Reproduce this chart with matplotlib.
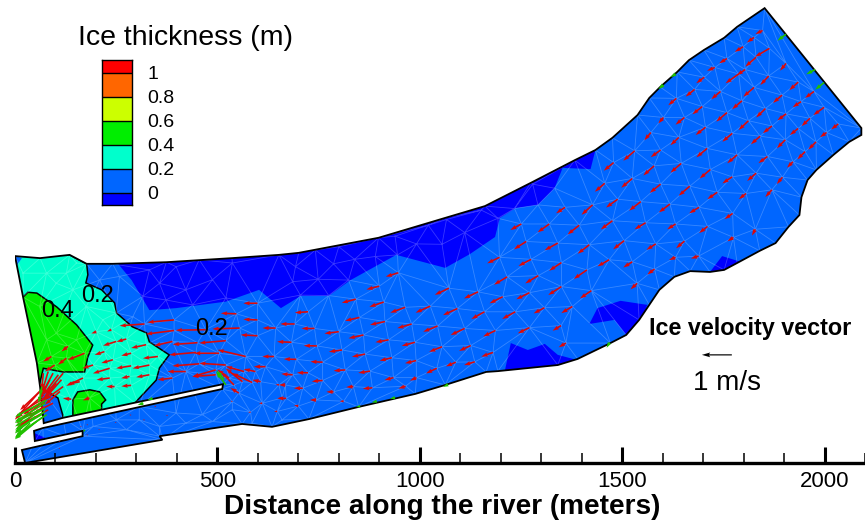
import numpy as np
import matplotlib
matplotlib.use('Agg')
import matplotlib.pyplot as plt
import matplotlib.tri as mtri
from matplotlib.patches import Polygon
from matplotlib.path import Path

plt.rcParams['font.family'] = 'Liberation Sans'

# River outline, metres
river_x = [0,62,135,177,241,374,536,652,701,898,1063,1161,1274,1383,1434,1476,1538,1567,1594,1636,1665,1702,1752,1784,1852,
           2091,2091,2061,2022,1980,1958,1943,1938,1911,1879,1840,1784,1752,1717,1668,1629,1592,1567,1542,1510,1471,1390,1341,
           1193,1164,1063,989,849,726,635,561,357,364,25,17,167,167,49,47,69,512,514,118,71,62,54,20]
river_y = [509,504,512,490,490,494,504,512,517,554,603,632,689,745,770,800,856,898,925,962,991,1016,1046,1073,1119,
           824,807,790,758,721,696,654,610,581,541,522,492,475,470,472,458,426,389,352,315,295,256,241,
           226,224,192,170,138,108,89,96,66,57,0,32,66,79,54,79,86,182,194,111,98,187,246,408]

# Ice thickness zones
cyan_x = [-10,0,135,177,180,175,214,246,251,290,325,332,381,357,349,303,290,118,118,106,86,62,-10]
cyan_y = [509,509,512,490,463,443,426,394,369,335,320,298,266,234,204,155,140,105,118,160,172,187,200]
green_x = [-10,20,32,54,103,152,192,180,172,118,70,61,-10]
green_y = [408,408,420,418,384,340,290,261,224,224,233,196,196]
green2_x = [143,143,155,185,209,224,214,214,143]
green2_y = [130,155,175,180,175,155,145,130,110]
band_x = [253,288,332,398,521,603,657,706,775,829,942,1063,1124,1186,1198,1237,1292,1333,1353,1422,1434,1434,1000,650,253]
band_y = [492,450,376,381,397,426,381,411,411,450,512,480,514,556,603,627,635,676,726,723,770,800,620,540,520]
patch_a_x = [1717,1747,1796,1771]
patch_a_y = [470,509,494,462]
patch_b_x = [1419,1439,1496,1562,1545,1510,1481]
patch_b_y = [342,381,399,389,344,315,352]
patch_c_x = [1210,1225,1267,1309,1341,1390,1390,1210]
patch_c_y = [226,295,278,293,266,253,216,192]
patch_d_x = [47,86,49]
patch_d_y = [74,57,54]
patch_e_x = [0,17,5]
patch_e_y = [509,504,487]

# Ice velocity, downstream reach: position in metres, speed in m/s
down_x = [1847,1826,1799,1759,1729,1864,1831,1788,1804,1703,1905,1862,1679,1634,1743,1826,1935,1974,1895,1796,1698,1942,1854,1759,1654,1602,1905,1964,1999,1812,1706,1870,1935,2034,2005,1772,1841,1903,1979,1640,1571,1710,1595,1531,1479,1952,1784,1859,1922,1646,1579,1718,1525,1457,1772,1831,1896,1595,1667,1735,1806,1870,1489,1427,1546,1618,1690,1773,1476,1558,1632,1394,1359]
down_y = [1064,1047,1024,995,973,1020,998,957,968,949,983,952,919,897,914,924,937,914,905,891,877,889,872,862,850,850,859,848,875,842,826,829,823,834,813,811,804,795,790,801,813,774,770,768,739,766,758,754,741,737,731,722,700,688,704,713,703,686,681,666,663,672,649,635,643,637,629,614,596,591,588,585,629]
down_u = [-.24,-.24,-.28,-.26,-.26,-.48,-.36,-.44,-.28,-.27,-.20,-.28,-.30,-.27,-.31,-.36,-.30,-.30,-.30,-.33,-.33,-.28,-.31,-.36,-.30,-.17,-.29,-.28,-.36,-.33,-.33,-.30,-.28,-.24,-.22,-.33,-.31,-.28,-.26,-.28,-.22,-.36,-.33,-.38,-.33,-.26,-.33,-.30,-.20,-.36,-.36,-.36,-.37,-.33,-.33,-.30,-.19,-.36,-.37,-.33,-.24,-.22,-.39,-.37,-.39,-.37,-.33,-.27,-.39,-.37,-.28,-.39,-.30]
down_v = [-.12,-.17,-.17,-.16,-.11,-.28,-.31,-.31,-.19,-.20,-.24,-.30,-.24,-.23,-.26,-.31,-.27,-.22,-.26,-.28,-.26,-.19,-.30,-.30,-.24,-.20,-.22,-.26,-.26,-.31,-.26,-.24,-.22,-.18,-.16,-.28,-.27,-.28,-.26,-.26,-.26,-.30,-.24,-.33,-.27,-.26,-.28,-.22,-.20,-.31,-.32,-.30,-.31,-.28,-.22,-.26,-.23,-.29,-.32,-.23,-.19,-.24,-.28,-.33,-.30,-.28,-.20,-.19,-.29,-.22,-.18,-.31,-.20]

# Middle reach
mid_x = [1320,1263,1341,1419,1505,1583,1654,1275,1350,1468,1525,1580,1632,1689,1775,1829,1711,1293,1413,1537,1350,1424,1271,1236,1308,1377,1271,1349,1361,1251,1197,1216,1072,1144,1205,1026,964,1093,1160,947,900,842,911,724,851,914,980,1044,1111,1187,691,740,800,861,923,988,1055,1126,1181,683,746,808,865,931,991,1089,1136,1042,695,760,816,877,935,992,724,686,760,711,836,883,787,965,668,670,744,812,700]
mid_y = [588,545,541,537,547,539,546,501,493,500,495,477,506,509,555,575,582,461,475,442,434,424,419,372,382,385,333,338,295,588,506,458,430,421,409,386,383,380,372,468,435,403,396,372,358,348,342,337,331,326,342,331,323,315,303,297,286,289,272,297,288,278,268,259,252,248,249,233,255,248,229,226,210,210,222,217,203,184,188,185,175,189,192,159,155,152,140]
mid_u = [-.39,-.41,-.44,-.39,-.37,-.31,-.28,-.42,-.41,-.39,-.30,-.24,-.22,-.26,-.20,-.11,-.28,-.44,-.44,-.22,-.44,-.38,-.44,-.44,-.36,-.37,-.39,-.28,-.24,-.37,-.41,-.44,-.47,-.47,-.44,-.49,-.50,-.48,-.44,-.42,-.43,-.47,-.48,-.44,-.48,-.50,-.48,-.48,-.47,-.41,-.48,-.43,-.48,-.50,-.44,-.44,-.43,-.39,-.39,-.48,-.44,-.44,-.44,-.41,-.37,-.33,-.36,-.36,-.42,-.41,-.39,-.39,-.30,-.22,-.37,-.38,-.36,-.30,-.24,-.32,-.24,-.24,-.22,-.30,-.21,-.13,-.14]
mid_v = [-.28,-.26,-.24,-.30,-.29,-.20,-.24,-.22,-.27,-.22,-.19,-.18,-.09,-.08,-.13,-.21,-.22,-.26,-.30,-.20,-.28,-.26,-.22,-.24,-.19,-.22,-.19,-.17,-.14,-.20,-.20,-.26,-.22,-.22,-.22,-.22,-.18,-.22,-.24,-.13,-.11,-.12,-.16,-.03,-.11,-.11,-.14,-.19,-.22,-.20,0,0,-.06,-.11,-.08,-.12,-.17,-.18,-.14,.02,.01,-.06,-.09,-.10,-.09,-.14,-.11,-.17,.01,.02,-.03,-.06,-.08,-.10,0,.03,-.03,0,-.02,-.03,0,-.08,0,0,0,0,.03]

# Upstream reach, around the jam and the tip of the long slot
up_x = [599,547,599,320,393,393,471,555,644,389,451,521,599,570,504,447,640,324,275,201,238,250,172,221,287,353,242,193,234,287,332,168,234,283,332,246,287,160,184,139,131,90,127,98,455,521,496,496,422,389,566,586,562,541,529,594,553,619,607,652,660,611,582,648,537]
up_y = [393,367,352,342,352,326,328,332,332,299,296,301,313,262,270,272,262,291,305,323,328,299,270,274,270,262,254,241,233,239,241,209,209,213,217,188,191,200,160,157,287,262,258,241,244,241,229,217,225,209,225,198,200,192,209,225,172,237,200,192,160,147,125,127,151]
up_u = [-.47,-.52,-.47,-.83,-.89,-.94,-1.0,-.91,-.44,-.61,-.83,-.89,-.56,-.94,-.83,-.89,-.39,-.5,-.33,-.17,-.14,-.44,-.56,-.33,-.33,-.5,-.39,-.36,-.56,-.5,-.56,-.56,-.44,-.28,-.44,-.28,-.33,-.39,-.22,-.28,-.22,-.28,-.28,-.33,-.89,-.89,-.78,-.78,-.61,-.5,-.61,-.67,-.56,-.44,-.39,-.39,-.28,-.39,-.28,-.11,-.11,-.11,-.08,-.11,-.06]
up_v = [0,.02,.02,-.06,-.08,-.12,-.02,-.03,0,-.14,-.06,-.08,.03,.22,0,-.08,0,-.11,-.09,-.06,-.06,-.14,-.22,-.11,-.08,-.06,-.11,-.11,-.17,-.08,-.11,-.26,-.06,-.06,-.08,0,-.03,-.08,-.08,.03,-.17,-.17,-.22,-.22,-.07,.06,-.22,-.06,0,-.06,.17,.31,.44,.44,.28,.08,.17,0,.06,.02,0,0,0,0,.03]

# Fan of vectors at the downstream end of the jam
fan_x = [119,107,94,82,70,115,119,86,66,70,78,61,70,102,111,86,74,86,94,82,57]
fan_y = [221,217,221,225,221,205,188,188,164,151,164,176,139,196,176,205,188,164,147,131,131]
fan_u = [-.56,-.5,-.39,-.22,-.06,-.5,-.61,-.28,-.83,-.89,-.89,-.83,-.89,-.44,-.5,-.33,-.83,-.89,-.89,-1.0,-.72]
fan_v = [-.67,-.67,-.72,-.72,-.56,-.56,-.44,-.67,-.72,-.72,-.56,-.94,-.72,-.56,-.44,-.67,-.78,-.61,-.44,-.56,-.72]

# Nearly still ice in the lower channel
slow_x = [348,377,320,287,180,164,209,111,111,180,250]
slow_y = [139,117,106,118,69,90,82,53,36,94,100]
slow_u = [-.06,-.06,-.06,-.06,-.05,-.05,-.05,-.05,-.05,-.05,-.05]
slow_v = [0,0,0,0,0,0,0,0,0,0,0]

# Vectors at nodes on the boundary, drawn in green
edge_x = [74,74,74,70,61,53,66,66,521,517,1905,1977,1999,1632,1602,1070,939,894,853,1469,317,340,172,78,78,66,49,37]
edge_y = [147,135,127,114,131,102,180,188,192,205,1055,968,936,957,930,193,161,152,140,296,147,159,82,155,119,119,114,98]
edge_u = [-1.0,-1.0,-1.0,-.94,-.83,-.72,-.11,-.06,-.33,-.26,-.29,-.30,-.30,-.17,-.17,-.17,-.17,-.17,-.14,-.10,-.19,-.17,-.03,-1.05,-1.0,-.89,-.67,-.5]
edge_v = [-.61,-.61,-.67,-.67,-.44,-.59,-.44,-.33,.44,.31,-.22,-.16,-.24,-.11,-.14,-.08,-.04,-.04,-.03,-.17,-.06,-.06,-.10,-.56,-.67,-.5,-.56,-.5]

# Mesh nodes that carry no visible vector
node_x = [749,686,787,839,890,945,992,1055,1111,1152,1066,1021,939,800,742,693,705,775,824,1234,1279,1292,1333,1193,78,127,20,152,102,143,209,217,176,250,102,61,78,152,291,258,316,357,422,488,537,332,398,455,373,439,521,307,398,463,537,586,660,250,193,127,70,275,357,422,488,307]
node_y = [452,446,490,501,508,512,539,538,567,622,599,585,558,532,524,483,413,412,450,626,686,635,676,602,467,467,467,492,442,426,450,352,385,369,319,385,303,303,360,459,410,442,426,451,492,475,483,500,401,389,406,139,123,119,131,98,106,106,90,65,45,82,90,98,102,106]

# Legend
levels = [-0.1, 0, 0.2, 0.4, 0.6, 0.8, 1.0, 1.105]
level_colors = ['#0000FF', '#0066FF', '#00FFCC', '#00EE00', '#CCFF00', '#FF6600', '#FF0000']
legend_ticks = [0, 0.2, 0.4, 0.6, 0.8, 1]
legend_labels = ['0', '0.2', '0.4', '0.6', '0.8', '1']
major_ticks = [0, 500, 1000, 1500, 2000]
minor_ticks = [100,200,300,400,600,700,800,900,1100,1200,1300,1400,1600,1700,1800,1900,2100]

W, H = 865, 524
fig = plt.figure(figsize=(W / 100, H / 100), dpi=100)
ax = fig.add_axes([15 / W, 61 / H, 850 / W, 463 / H])
ax.set_xlim(0, 2090)
ax.set_ylim(0, 1139)
for s in ['top', 'left', 'right']:
    ax.spines[s].set_visible(False)
ax.spines['bottom'].set_linewidth(2.4)
ax.spines['bottom'].set_zorder(10)
ax.set_yticks([])
ax.set_xticks(major_ticks)
ax.set_xticks(minor_ticks, minor=True)
ax.tick_params(axis='x', which='major', direction='in', length=11.5, width=2.2, labelsize=16, pad=5.5)
ax.tick_params(axis='x', which='minor', direction='in', length=7.2, width=1.1)

river = np.column_stack([river_x, river_y])
base = Polygon(river, closed=True, fc=level_colors[1], ec='none', zorder=1)
ax.add_patch(base)


def zone(xs, ys, color, edge='none', z=2):
    p = Polygon(np.column_stack([xs, ys]), closed=True, fc=color, ec=edge, lw=1.1, zorder=z)
    ax.add_patch(p)
    p.set_clip_path(base)


zone(band_x, band_y, level_colors[0])
zone(patch_a_x, patch_a_y, level_colors[0])
zone(patch_b_x, patch_b_y, level_colors[0])
zone(patch_c_x, patch_c_y, level_colors[0])
zone(patch_d_x, patch_d_y, level_colors[0])
zone(cyan_x, cyan_y, level_colors[2], edge='black', z=3)
zone(patch_e_x, patch_e_y, level_colors[1], z=3)
zone(green_x, green_y, level_colors[3], edge='black', z=4)
zone(green2_x, green2_y, level_colors[3], edge='black', z=4)

# mesh, Delaunay over the nodes and kept inside the river
mesh_x = np.array(down_x + mid_x + up_x + node_x + river_x, dtype=float)
mesh_y = np.array(down_y + mid_y + up_y + node_y + river_y, dtype=float)
tri = mtri.Triangulation(mesh_x, mesh_y)
cx = mesh_x[tri.triangles].mean(axis=1)
cy = mesh_y[tri.triangles].mean(axis=1)
tri.set_mask(~Path(river).contains_points(np.column_stack([cx, cy])))
mesh_lines = ax.triplot(tri, color='white', alpha=0.22, lw=0.6, zorder=5)
for ln in mesh_lines:
    ln.set_clip_path(base)

ax.add_patch(Polygon(river, closed=True, fc='none', ec='black', lw=1.3, zorder=6))

# 1 m/s is drawn as 74 m of the axis
quiver_style = dict(angles='xy', scale_units='xy', scale=1 / 74, width=0.0019,
                    headwidth=2.6, headlength=4, headaxislength=3.6, minlength=0.3)
all_x = down_x + mid_x + up_x + fan_x + slow_x
all_y = down_y + mid_y + up_y + fan_y + slow_y
all_u = down_u + mid_u + up_u + fan_u + slow_u
all_v = down_v + mid_v + up_v + fan_v + slow_v
ax.quiver(all_x, all_y, all_u, all_v, color='#DC0808', zorder=7, **quiver_style)
ax.quiver(edge_x, edge_y, edge_u, edge_v, color='#20C000', zorder=8, **quiver_style)

# scale arrow
ax.quiver([1771], [266], [-1], [0], color='black', zorder=8, angles='xy', scale_units='xy',
          scale=1 / 74, width=0.0014, headwidth=4, headlength=7, headaxislength=6)
ax.text(1815, 332, 'Ice velocity vector', fontsize=16.8, fontweight='bold', ha='center', va='center', zorder=9)
ax.text(1760, 197, '1 m/s', fontsize=20, ha='center', va='center', zorder=9)

ax.text(106, 374, '0.4', fontsize=17, ha='center', va='center', zorder=9)
ax.text(204, 411, '0.2', fontsize=17, ha='center', va='center', zorder=9)
ax.text(486, 330, '0.2', fontsize=17, ha='center', va='center', zorder=9)

fig.text(442 / W, 1 - 507 / H, 'Distance along the river (meters)', fontsize=20.2,
         fontweight='bold', ha='center', va='center')
fig.text(186 / W, 1 - 38 / H, 'Ice thickness (m)', fontsize=20.5, ha='center', va='center')

# contour legend
cax = fig.add_axes([102 / W, 1 - 205 / H, 30 / W, 145 / H])
cax.pcolormesh([0, 1], levels, np.arange(7).reshape(-1, 1),
               cmap=matplotlib.colors.ListedColormap(level_colors), shading='flat')
cax.hlines(levels[1:-1], 0, 1, color='black', lw=1)
cax.set_xticks([])
cax.yaxis.tick_right()
cax.set_yticks(legend_ticks)
cax.set_yticklabels(legend_labels, va='center_baseline')
cax.tick_params(axis='y', length=0, labelsize=14, pad=11)
for s in cax.spines.values():
    s.set_linewidth(1)

fig.savefig('out.png', dpi=100)
